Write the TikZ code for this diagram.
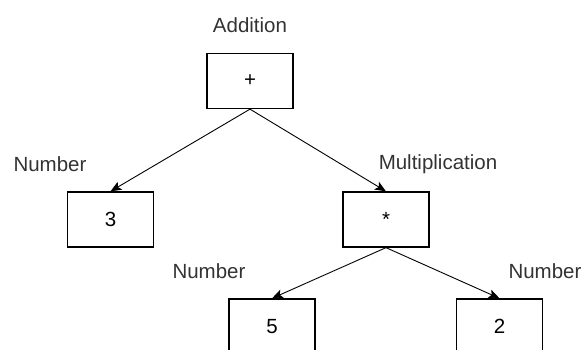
\documentclass[tikz,border=0pt]{standalone}
\usepackage{fontspec}
\setmainfont{Liberation Sans}
\usetikzlibrary{arrows.meta}
\begin{document}
\begin{tikzpicture}[x=1pt,y=-1pt,
  every node/.style={font=\fontsize{20.5}{24}\selectfont, inner sep=0pt},
  box/.style={draw, line width=1.3pt, minimum width=86pt, minimum height=55pt, fill=white},
  lbl/.style={text=black!80},
  edge/.style={draw, line width=0.9pt, -{Stealth[length=11pt,width=9pt,inset=2.5pt]}}]
\useasboundingbox (0,0) rectangle (582,350);
\clip (0,0) rectangle (582,350);
\node[box] (add) at (250,81) {+};
\node[box] (three) at (110.5,219.5) {3};
\node[box] (mul) at (386,219.5) {*};
\node[box] (five) at (272,326.5) {5};
\node[box] (two) at (499.5,326.5) {2};
\node[lbl] (laddl) at (250,25) {Addition};
\node[lbl] (lnum1) at (50,164) {Number};
\node[lbl] (lmul) at (438,164) {Multiplication};
\node[lbl] (lnum2) at (209,271) {Number};
\node[lbl] (lnum3) at (545,271) {Number};
\draw[edge] (add.south) -- (three.north);
\draw[edge] (add.south) -- (mul.north);
\draw[edge] (mul.south) -- (five.north);
\draw[edge] (mul.south) -- (two.north);
\end{tikzpicture}
\end{document}
